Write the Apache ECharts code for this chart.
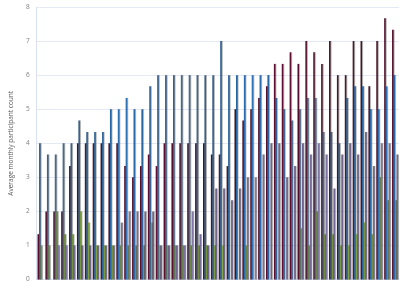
<!DOCTYPE html>
<html>
<head>
<meta charset="utf-8">
<script src="https://cdn.jsdelivr.net/npm/echarts@6/dist/echarts.min.js"></script>
<style>
  html, body { margin: 0; padding: 0; background: #fff; }
  #chart { width: 400px; height: 283px; }
</style>
</head>
<body>
<div id="chart"></div>
<script>
// 46 groupes, pas d'étiquettes visibles sur l'axe des x
const categories = ["1", "2", "3", "4", "5", "6", "7", "8", "9", "10",
  "11", "12", "13", "14", "15", "16", "17", "18", "19", "20",
  "21", "22", "23", "24", "25", "26", "27", "28", "29", "30",
  "31", "32", "33", "34", "35", "36", "37", "38", "39", "40",
  "41", "42", "43", "44", "45", "46"];

const maroonVals = [1.33, 2, 2, 2, 3.33, 4, 4, 4, 4, 4,
  4, 3.33, 3, 3.33, 3.67, 3.33, 4, 4, 4, 4,
  4, 4, 3.67, 3.67, 3.33, 5, 4.67, 5, 5.33, 5.67,
  6.33, 6.33, 6.67, 6.33, 7, 6.67, 6.33, 7, 6, 6,
  7, 7, 5.67, 7, 7.67, 7.33];

const blueVals = [4, 3.67, 3.67, 4, 4, 4.67, 4.33, 4.33, 4.33, 5,
  5, 5.33, 5, 5, 5.67, 6, 6, 6, 6, 6,
  6, 6, 6, 7, 6, 6, 6, 6, 6, 6,
  5.33, 5, 4.67, 5, 5.33, 5.33, 4.33, 4.33, 4, 5.33,
  5.67, 5.67, 5, 5, 5.67, 6];

const greenVals = [1, 1, 2, 1.33, 1.33, 2, 1.67, 1, 1, 1,
  1, 1, 1, 1, 1.67, 1, 1, 1, 1, 1,
  1, 1, 1, 1, 0, 0, 1, 0, 0, 0,
  0, 0, 0, 1.5, 1, 2, 1.33, 1.33, 1, 1,
  1.33, 1.67, 1.33, 3, 2.33, 2.33];

const purpleVals = [0, 0, 1, 1, 1, 1, 1, 1, 1, 1,
  1.67, 2, 2, 2, 2, 1, 1, 1, 1, 2,
  1.33, 1, 2.67, 2.67, 2.33, 2.67, 3, 3, 3.67, 4,
  4, 3, 3.33, 4, 3.67, 4, 3.67, 2.67, 3.67, 4,
  3.67, 4.33, 3.33, 4, 4, 3.67];

const yTicks = [0, 1, 2, 3, 4, 5, 6, 7, 8];

(function () {
  "use strict";
  const chart = echarts.init(document.getElementById("chart"), null, { renderer: "canvas" });

  // dégradé horizontal façon Excel : bords foncés, centre plus clair
  const grad = (edge, mid) => new echarts.graphic.LinearGradient(0, 0, 1, 0, [
    { offset: 0, color: edge }, { offset: 0.5, color: mid }, { offset: 1, color: edge },
  ]);

  const mk = (name, data, edge, mid) => ({
    name: name, type: "bar", data: data,
    barWidth: 1.5, barGap: "0%",
    itemStyle: {
      color: grad(edge, mid),
      shadowColor: "rgba(0,0,0,0.3)", shadowOffsetX: 1, shadowBlur: 0,
    },
    emphasis: { disabled: true },
  });

  chart.setOption({
    animation: false,
    grid: { left: 31, right: 1, top: 7, bottom: 3, containLabel: false },
    xAxis: {
      type: "category", data: categories,
      axisLine: { show: true, lineStyle: { color: "#d9e1f2" } },
      axisTick: { show: false }, axisLabel: { show: false },
    },
    yAxis: {
      type: "value", min: yTicks[0], max: yTicks[yTicks.length - 1], interval: 1,
      name: "Average monthly participant count",
      nameLocation: "middle", nameGap: 20, nameRotate: 90,
      nameTextStyle: { fontFamily: "Open Sans", fontSize: 6.5, color: "#595959" },
      axisLine: { show: true, lineStyle: { color: "#d9e1f2" } },
      axisTick: { show: false },
      axisLabel: { fontFamily: "Open Sans", fontSize: 6.5, color: "#7f7f7f", margin: 7 },
      splitLine: { lineStyle: { color: "#e4e9f4", width: 1 } },
    },
    series: [
      mk("A", maroonVals, "#330215", "#651035"),
      mk("B", blueVals, "#123f6e", "#2f75bb"),
      mk("C", greenVals, "#50701f", "#84a545"),
      mk("D", purpleVals, "#43375f", "#857aa8"),
    ],
  });
})();
</script>
</body>
</html>
